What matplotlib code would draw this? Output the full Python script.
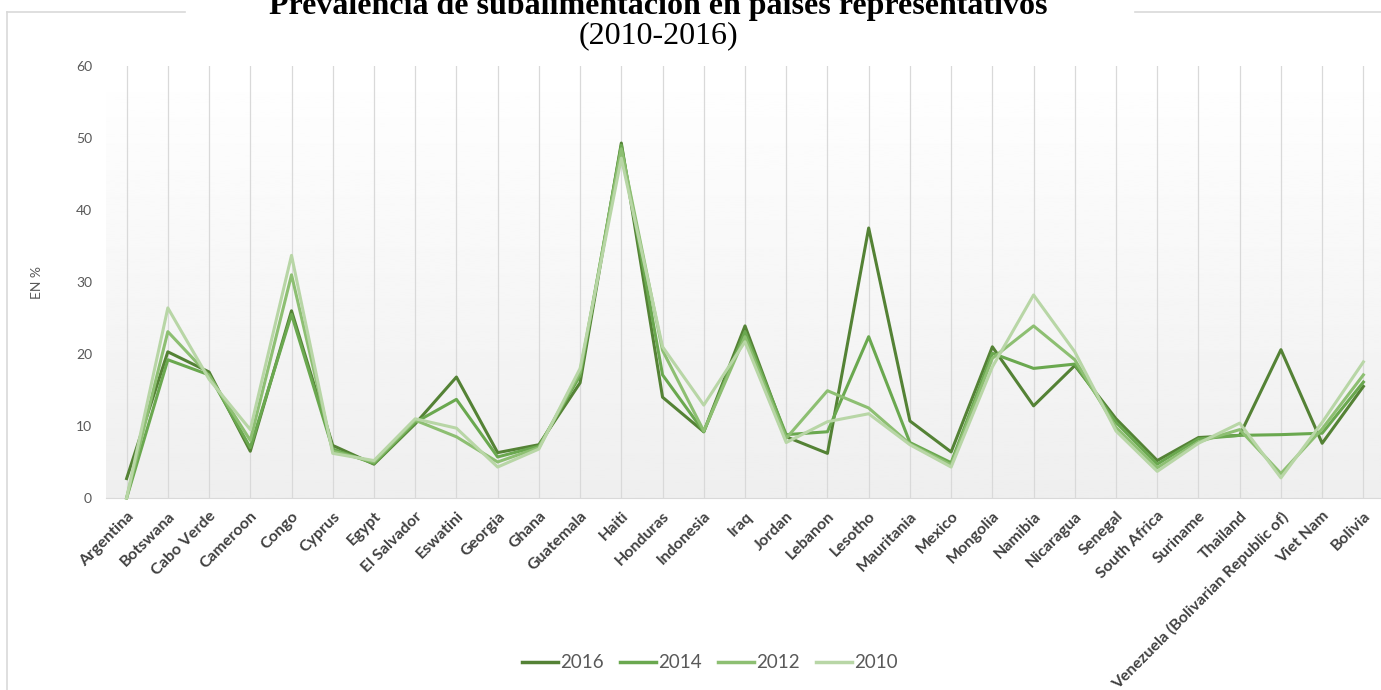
import matplotlib
matplotlib.use("Agg")
import matplotlib.pyplot as plt
import numpy as np
from matplotlib.lines import Line2D

# countries on the x axis
countries = ['Argentina', 'Botswana', 'Cabo Verde', 'Cameroon', 'Congo', 'Cyprus', 'Egypt',
             'El Salvador', 'Eswatini', 'Georgia', 'Ghana', 'Guatemala', 'Haiti', 'Honduras',
             'Indonesia', 'Iraq', 'Jordan', 'Lebanon', 'Lesotho', 'Mauritania', 'Mexico',
             'Mongolia', 'Namibia', 'Nicaragua', 'Senegal', 'South Africa', 'Suriname',
             'Thailand', 'Venezuela (Bolivarian Republic of)', 'Viet Nam', 'Bolivia']

# prevalence of undernourishment, %
y2016 = [2.7, 20.3, 17.5, 6.5, 26.0, 7.3, 4.7, 10.3, 16.8, 6.3, 7.4, 16.0, 49.3, 14.0, 9.2,
         23.9, 8.5, 6.2, 37.5, 10.7, 6.4, 21.0, 12.8, 18.4, 11.0, 5.2, 8.4, 8.7, 20.6, 7.6, 15.5]
y2014 = [0.0, 19.2, 17.1, 7.0, 25.5, 6.8, 4.8, 10.5, 13.7, 5.7, 7.2, 17.0, 49.0, 17.1, 9.2,
         23.1, 8.8, 9.2, 22.4, 7.7, 4.9, 20.1, 18.0, 18.6, 10.5, 4.7, 8.2, 8.7, 8.8, 9.0, 16.1]
y2012 = [0.0, 23.1, 17.0, 8.0, 31.0, 6.5, 5.0, 10.8, 8.5, 5.0, 7.0, 17.5, 48.5, 20.5, 9.3,
         22.4, 8.3, 14.9, 12.5, 7.5, 4.6, 19.4, 23.9, 19.2, 9.8, 4.2, 7.8, 9.5, 3.4, 9.6, 17.1]
y2010 = [0.0, 26.4, 16.5, 9.5, 33.7, 6.2, 5.2, 11.0, 9.7, 4.3, 6.8, 18.0, 47.2, 21.0, 12.9,
         21.7, 7.7, 10.6, 11.7, 7.4, 4.3, 18.2, 28.2, 20.3, 9.3, 3.7, 7.6, 10.4, 2.8, 10.5, 18.9]

years = ['2016', '2014', '2012', '2010']
series = [y2016, y2014, y2012, y2010]
colors = ['#548235', '#6aa84f', '#8dbf72', '#b8d6a6']

fig = plt.figure(figsize=(13.81, 6.9), dpi=100)
W, H = 1381, 690
ax = fig.add_axes([106 / W, 1 - 498 / H, 1278 / W, 432 / H])

x = np.arange(len(countries))

# soft grey gradient behind the plot area
grad = np.linspace(1.0, 0.935, 256).reshape(-1, 1)
ax.imshow(grad, aspect='auto', cmap='gray', vmin=0, vmax=1,
          extent=[-0.5, len(countries) - 0.5, 0, 60], origin='upper', zorder=0)

for xi in x:
    ax.axvline(xi, color='#d9d9d9', lw=0.9, zorder=1)

for vals, c, lab in zip(series, colors, years):
    ax.plot(x, vals, color=c, lw=2.2, label=lab, zorder=3, clip_on=False)

ax.set_xlim(-0.5, len(countries) - 0.5)
ax.set_ylim(0, 60)
ax.set_yticks(range(0, 61, 10))
ax.set_xticks(x)
ax.set_xticklabels(countries, rotation=45, ha='right', rotation_mode='anchor',
                   fontsize=11.5, fontweight='bold', color='#404040', family='Lato')
ax.tick_params(axis='x', length=0, pad=8)
ax.tick_params(axis='y', length=0, pad=10, labelsize=10, labelcolor='#595959')
for t in ax.get_yticklabels():
    t.set_family('Lato')
for s in ['top', 'right', 'left']:
    ax.spines[s].set_visible(False)
ax.spines['bottom'].set_color('#d9d9d9')
ax.spines['bottom'].set_zorder(2)

fig.text(37 / W, 1 - 282 / H, 'EN %', rotation=90, ha='center', va='center',
         fontsize=10, color='#595959', family='Lato')

# chart frame (top edge broken by the title box)
frame = '#d9d9d9'
fig.add_artist(Line2D([7 / W, 7 / W], [0, 1 - 12 / H], transform=fig.transFigure, color=frame, lw=1.2))
fig.add_artist(Line2D([7 / W, 185 / W], [1 - 12 / H, 1 - 12 / H], transform=fig.transFigure, color=frame, lw=1.2))
fig.add_artist(Line2D([1135 / W, 1], [1 - 12 / H, 1 - 12 / H], transform=fig.transFigure, color=frame, lw=1.2))

fig.text(658 / W, 1 - 14 / H, 'Prevalencia de subalimentación en países representativos',
         ha='center', va='baseline', fontsize=23, fontweight='bold', family='Liberation Serif')
fig.text(658 / W, 1 - 43 / H, '(2010-2016)', ha='center', va='baseline', fontsize=23,
         family='Liberation Serif')

handles = [Line2D([], [], color=c, lw=2.5) for c in colors]
leg = fig.legend(handles, years, loc='center', bbox_to_anchor=(710 / W, 1 - 663 / H), ncol=4,
                 frameon=False, handlelength=1.9, handletextpad=0.15, columnspacing=0.85,
                 prop={'family': 'Lato', 'size': 13.5})
for t in leg.get_texts():
    t.set_color('#595959')

fig.savefig('out.png', dpi=100)
